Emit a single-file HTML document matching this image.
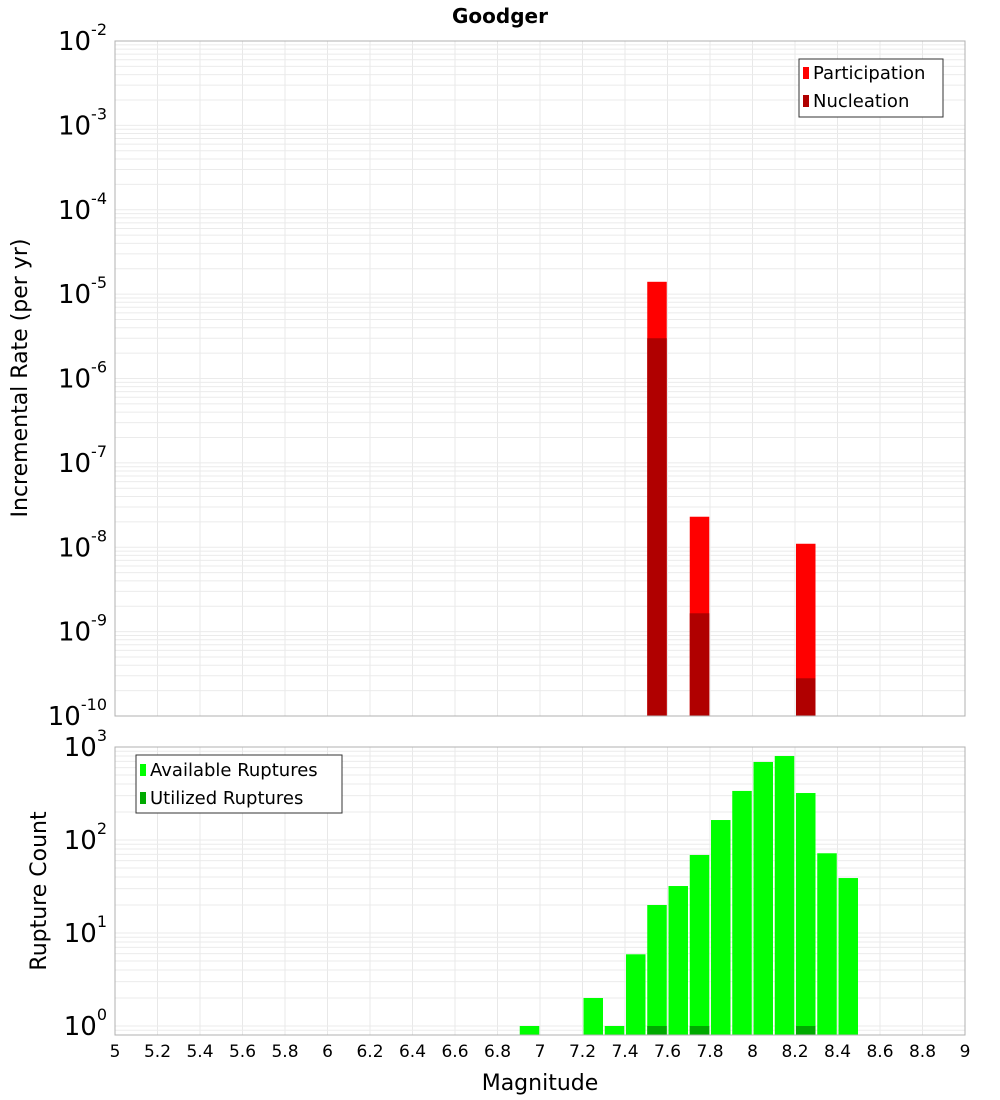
<!DOCTYPE html>
<html><head><meta charset="utf-8"><style>
body{margin:0;background:#fff;}
svg{display:block;font-family:"DejaVu Sans","Liberation Sans",sans-serif;}
</style></head><body>
<svg id="c" width="1000" height="1100" xmlns="http://www.w3.org/2000/svg">
<text x="500" y="23" text-anchor="middle" font-size="20" font-weight="bold">Goodger</text>
<g id="top"></g>
<g id="bot"></g>
<text transform="translate(27,378) rotate(-90)" text-anchor="middle" font-size="22">Incremental Rate (per yr)</text>
<text transform="translate(46,891) rotate(-90)" text-anchor="middle" font-size="22">Rupture Count</text>
<text x="540" y="1090" text-anchor="middle" font-size="22">Magnitude</text>
<g>
<rect x="799" y="59" width="144" height="58" fill="#fff" stroke="#333"/>
<rect x="803" y="67" width="6" height="12" fill="#ff0000"/>
<text x="813" y="79" font-size="18">Participation</text>
<rect x="803" y="95" width="6" height="12" fill="#b00000"/>
<text x="813" y="107" font-size="18">Nucleation</text>
</g>
<g>
<rect x="136" y="755" width="206" height="58" fill="#fff" stroke="#333"/>
<rect x="140" y="764" width="6" height="12" fill="#00ff00"/>
<text x="150" y="776" font-size="18">Available Ruptures</text>
<rect x="140" y="792" width="6" height="12" fill="#00aa00"/>
<text x="150" y="804" font-size="18">Utilized Ruptures</text>
</g>
</svg>
<script>
const rateMags=[7.5,7.7,8.2];
const participation=[1.4e-5,2.3e-8,1.1e-8];
const nucleation=[3.0e-6,1.65e-9,2.8e-10];
const countMags=[6.9,7.2,7.3,7.4,7.5,7.6,7.7,7.8,7.9,8.0,8.1,8.2,8.3,8.4];
const available=[1,2,1,5.9,20,32,69,164,337,690,800,320,72,39];
const utilMags=[7.5,7.7,8.2];
const utilized=[1,1,1];
const xTicks=[5,5.2,5.4,5.6,5.8,6,6.2,6.4,6.6,6.8,7,7.2,7.4,7.6,7.8,8,8.2,8.4,8.6,8.8,9];
const rateExps=[-2,-3,-4,-5,-6,-7,-8,-9,-10];
const countExps=[3,2,1,0];

const NS="http://www.w3.org/2000/svg";
const X0=115,X1=965;
const xs=m=>X0+(m-5)/4*(X1-X0);
const T0=41,T1=716;
const yTop=v=>T0+(-2-Math.log10(v))/8*(T1-T0);
const B0=747,B1=1035,BD=93;
const yBot=v=>1026-Math.log10(v)*BD;
function mk(tag,attrs,parent){const e=document.createElementNS(NS,tag);for(const k in attrs)e.setAttribute(k,attrs[k]);parent.appendChild(e);return e;}
const gTop=document.getElementById('top'),gBot=document.getElementById('bot');

function grid(g,y0,y1,yf,emin,emax){
  for(const t of xTicks){const l=mk('line',{x1:xs(t),x2:xs(t),y1:y0,y2:y1,stroke:'#e8e8e8'},g);
    
    }
  for(let e=emin;e<=emax;e++)for(let k=1;k<10;k++){const y=yf(k*Math.pow(10,e));if(y<y0-0.5||y>y1+0.5)continue;
    const l=mk('line',{x1:X0,x2:X1,y1:y,y2:y,stroke:'#ebebeb'},g);
    
    }
}
grid(gTop,T0,T1,yTop,-10,-3);
grid(gBot,B0,B1,yBot,-1,3);

participation.forEach((v,i)=>{const x=xs(rateMags[i])+1;
  const r=mk('rect',{x:x,y:yTop(v),width:19.5,height:T1-yTop(v),fill:'#ff0000'},gTop);
  
  });
nucleation.forEach((v,i)=>{const x=xs(rateMags[i])+1;
  const r=mk('rect',{x:x,y:yTop(v),width:19.5,height:T1-yTop(v),fill:'#b00000'},gTop);
  
  });
available.forEach((v,i)=>{const x=xs(countMags[i])+1;
  const r=mk('rect',{x:x,y:yBot(v),width:19.5,height:B1-yBot(v),fill:'#00ff00'},gBot);
  
  });
utilized.forEach((v,i)=>{const x=xs(utilMags[i])+1;
  const r=mk('rect',{x:x,y:yBot(v),width:19.5,height:B1-yBot(v),fill:'#00aa00'},gBot);
  
  });

const f1=mk('rect',{x:X0,y:T0,width:X1-X0,height:T1-T0,fill:'none',stroke:'#b0b0b0'},gTop);


const f2=mk('rect',{x:X0,y:B0,width:X1-X0,height:B1-B0,fill:'none',stroke:'#b0b0b0'},gBot);



function ylab(g,y,e){const t=mk('text',{x:107,y:y+9,'text-anchor':'end','font-size':26},g);
  
  
  t.appendChild(document.createTextNode('10'));
  const s=mk('tspan',{dy:-15,'font-size':16},t);s.textContent=String(e);}
rateExps.forEach(e=>ylab(gTop,yTop(Math.pow(10,e)),e));
countExps.forEach(e=>ylab(gBot,yBot(Math.pow(10,e)),e));
xTicks.forEach(t=>{const tx=mk('text',{x:xs(t),y:1057,'text-anchor':'middle','font-size':17},gBot);
  
  
  tx.textContent=String(t);});
</script>
</body></html>
